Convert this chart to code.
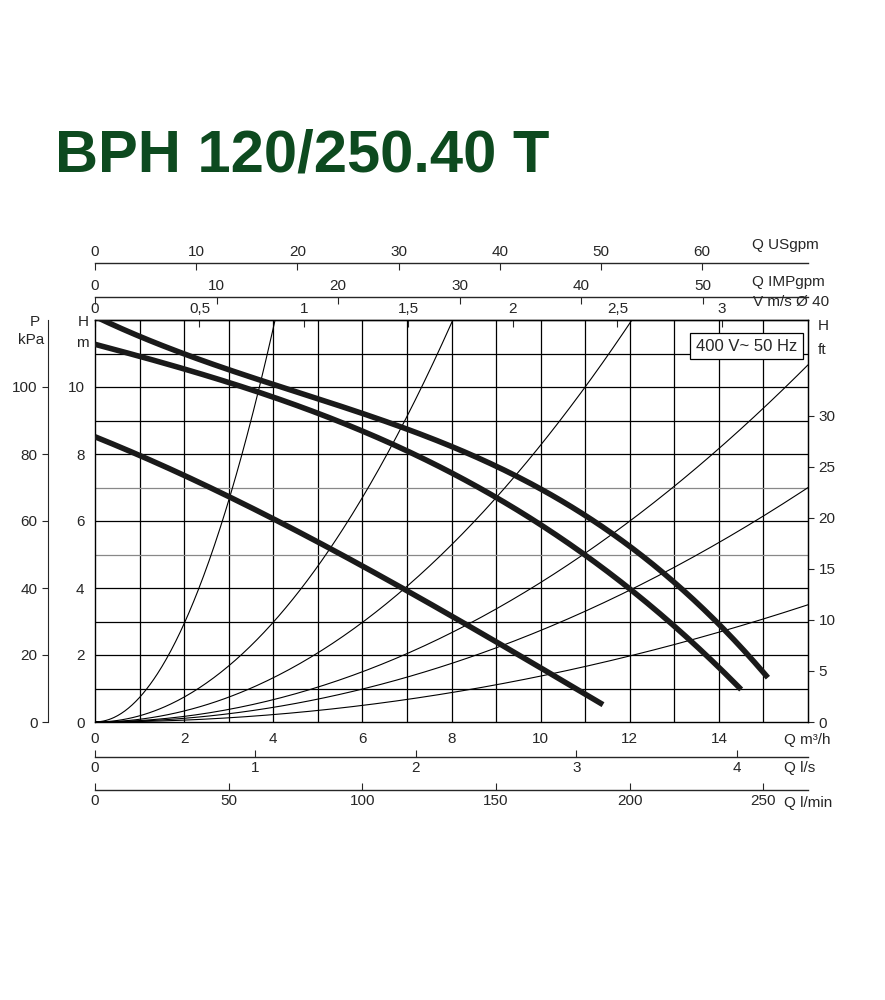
import numpy as np, pandas as pd, matplotlib
matplotlib.use("Agg")
import matplotlib.pyplot as plt, seaborn as sns

sns.set_style("white")
plt.rcParams['font.family'] = ['Liberation Sans', 'DejaVu Sans']

title = "BPH 120/250.40 T"
# pump curves: Q (m3/h), H (m)
pump_top_q = [0, 3, 6.85, 9.1, 12, 14, 15.1]
pump_top_h = [12.0, 10.8, 8.7, 7.2, 5.7, 2.9, 1.2]
pump_mid_q = [0, 3, 6.85, 10, 12, 14.5]
pump_mid_h = [11.3, 10.06, 8.27, 5.9, 3.9, 1.0]
pump_low_q = [0, 3, 5, 7, 9, 11.4]
pump_low_h = [8.5, 6.8, 5.3, 3.9, 2.45, 0.5]
# system curves
sys_q = [[0, 1, 2, 3, 4.04], [0, 2, 4, 6, 8.03], [0, 3, 6, 9, 12.05],
         [0, 4, 8, 12, 16], [0, 4, 8, 12, 16], [0, 4, 8, 12, 16]]
sys_h = [[0, 0.74, 2.94, 6.6, 12], [0, 0.74, 2.98, 6.7, 12], [0, 0.74, 2.97, 6.7, 12],
         [0, 0.67, 2.66, 6.0, 10.66], [0, 0.44, 1.75, 3.93, 7.0], [0, 0.22, 0.88, 1.97, 3.5]]

fig = plt.figure(figsize=(8.85, 10), dpi=100)
ax = fig.add_axes([95/885, 0.278, 713/885, 0.402])
ax.set_xlim(0, 16); ax.set_ylim(0, 12)
gray_rows = [5, 7]
for q in range(1, 16):
    ax.axvline(q, color='black', lw=0.9, zorder=1)
for h in range(1, 12):
    ax.axhline(h, color='#888888' if h in gray_rows else 'black', lw=0.9, zorder=1)

def smooth(qs, hs, deg):
    c = np.polyfit(qs, hs, deg)
    x = np.linspace(qs[0], qs[-1], 200)
    return x, np.polyval(c, x)

for qs, hs in zip(sys_q, sys_h):
    x, y = smooth(qs, hs, 2)
    sns.lineplot(x=x, y=y, ax=ax, color='black', lw=0.8, sort=False, zorder=2)
for qs, hs in [(pump_top_q, pump_top_h), (pump_mid_q, pump_mid_h), (pump_low_q, pump_low_h)]:
    x, y = smooth(qs, hs, 3)
    sns.lineplot(x=x, y=y, ax=ax, color='#1a1a1a', lw=4.0, sort=False, zorder=3,
                 solid_capstyle='butt')

for s in ax.spines.values():
    s.set_color('black'); s.set_linewidth(1.0)
ax.set_xticks(range(0, 16, 2))
ax.set_yticks(range(0, 12, 2))
ax.tick_params(labelsize=11, length=4, direction='out', color='black')
ax.set_xlabel(''); ax.set_ylabel('')

def sec_x(loc, f, inv, ticks, labels):
    s = ax.secondary_xaxis(loc, functions=(f, inv))
    s.set_xticks(ticks); s.set_xticklabels(labels)
    s.tick_params(labelsize=11, length=5, direction='in', pad=3)
    s.spines['top' if loc > 0 else 'bottom'].set_linewidth(1.0)
    return s

sec_x(1.0, lambda q: q / 4.69, lambda v: v * 4.69, [0, 0.5, 1, 1.5, 2, 2.5, 3],
      ['0', '0,5', '1', '1,5', '2', '2,5', '3'])
sec_x(1.057, lambda q: q / 0.2728, lambda g: g * 0.2728, range(0, 60, 10),
      [str(v) for v in range(0, 60, 10)])
sec_x(1.142, lambda q: q / 0.2271, lambda g: g * 0.2271, range(0, 70, 10),
      [str(v) for v in range(0, 70, 10)])
sec_x(-0.087, lambda q: q / 3.6, lambda l: l * 3.6, range(0, 5), [str(v) for v in range(5)])
sec_x(-0.169, lambda q: q / 0.06, lambda l: l * 0.06, range(0, 300, 50),
      [str(v) for v in range(0, 300, 50)])

kp = ax.secondary_yaxis(-0.066, functions=(lambda h: h * 10, lambda p: p / 10))
kp.set_yticks(range(0, 120, 20)); kp.tick_params(labelsize=11, length=4)
ft = ax.secondary_yaxis(1.0, functions=(lambda h: h / 0.3048, lambda f: f * 0.3048))
ft.set_yticks(range(0, 35, 5)); ft.set_yticklabels(['0', '5', '10', '15', '20', '25', '30'])
ft.tick_params(labelsize=11, length=4)

def t(x, y, s, **kw):
    fig.text(x/885, 1 - y/1000, s, fontsize=11, va='center', **kw)
t(752, 245, "Q USgpm"); t(752, 282, "Q IMPgpm"); t(753, 302, "V m/s Ø 40")
t(78, 322, "H"); t(76, 343, "m"); t(30, 322, "P"); t(18, 340, "kPa")
t(818, 326, "H"); t(818, 350, "ft")
t(784, 740, "Q m³/h"); t(784, 768, "Q l/s"); t(784, 803, "Q l/min")
fig.text(55/885, 1 - 156/1000, title, fontsize=43, fontweight='bold', color='#0d4a1f', va='center')
ax.text(0.985, 0.935, "400 V~ 50 Hz", transform=ax.transAxes, ha='right', va='center',
        fontsize=12, bbox=dict(boxstyle='square,pad=0.35', fc='white', ec='black', lw=0.9), zorder=5)

fig.savefig("out.png", dpi=100, facecolor='white')
